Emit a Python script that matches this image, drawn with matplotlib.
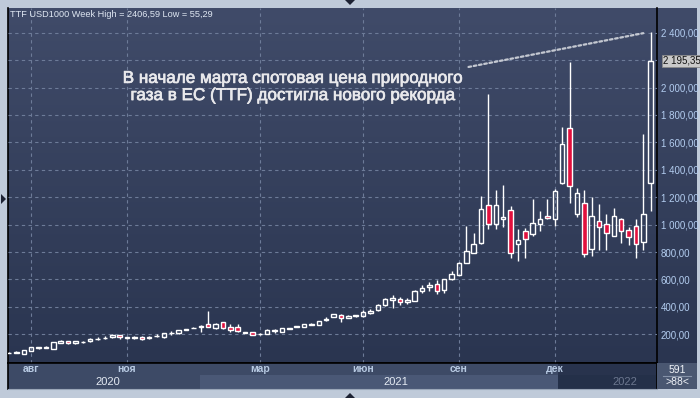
import numpy as np
import matplotlib
matplotlib.use('Agg')
import matplotlib.pyplot as plt
from matplotlib.colors import LinearSegmentedColormap
from matplotlib.patches import Rectangle, Polygon
from matplotlib.lines import Line2D
import matplotlib.transforms as mtransforms
import matplotlib.patheffects as pe

plt.rcParams['font.family'] = ['Liberation Sans', 'DejaVu Sans']

# ---------------- data (weekly candles, USD per 1000 m3) ----------------
opens = [64, 66, 60, 78, 101, 100, 92, 140, 148, 134,
         143, 148, 164, 170, 177, 194, 173, 175, 177, 170,
         186, 177, 207, 206, 234, 244, 257, 272, 247, 289,
         252, 252, 210, 214, 200, 204, 222, 218, 240, 255,
         255, 268, 269, 303, 327, 340, 321, 335, 335, 357,
         376, 415, 452, 461, 437, 444, 514, 545, 565, 524,
         606, 635, 722, 795, 863, 1144, 1006, 1043, 1108, 861,
         955, 933, 1006, 1066, 1040, 1304, 1704, 1079, 1159, 824,
         1028, 1006, 919, 1042, 958, 992, 873, 1302]
highs = [69, 76, 84, 106, 105, 114, 143, 156, 150, 150,
         148, 171, 178, 188, 201, 196, 184, 186, 185, 186,
         202, 211, 224, 235, 241, 250, 266, 368, 286, 291,
         272, 277, 217, 216, 207, 240, 238, 248, 248, 260,
         274, 282, 298, 325, 349, 347, 344, 342, 376, 388,
         419, 468, 485, 470, 463, 526, 558, 582, 594, 603,
         660, 727, 989, 936, 1212, 1953, 1256, 1292, 1139, 965,
         977, 1190, 1103, 1190, 1260, 1709, 2186, 1270, 1256, 1205,
         1147, 1074, 1118, 1045, 984, 1038, 1663, 2406.59]
lows = [62, 64, 55.29, 76, 90, 99, 90, 138, 132, 132,
        134, 147, 157, 169, 172, 165, 167, 168, 156, 168,
        178, 175, 194, 204, 228, 243, 218, 254, 237, 240,
        218, 214, 208, 195, 198, 202, 211, 216, 238, 254,
        253, 266, 267, 298, 325, 291, 319, 325, 323, 351,
        369, 407, 390, 417, 424, 442, 504, 519, 495, 499,
        597, 632, 718, 790, 856, 965, 965, 982, 754, 735,
        754, 916, 953, 1038, 989, 1300, 1159, 1057, 764, 771,
        815, 815, 915, 863, 849, 757, 815, 1098]
closes = [67, 69, 82, 104, 104, 106, 141, 148, 134, 148,
          147, 163, 169, 174, 194, 177, 177, 179, 163, 184,
          191, 209, 211, 230, 239, 248, 262, 257, 276, 247,
          230, 226, 215, 197, 205, 233, 229, 245, 246, 258,
          272, 274, 296, 313, 347, 320, 330, 340, 364, 367,
          412, 456, 465, 437, 451, 514, 536, 557, 516, 601,
          642, 722, 810, 861, 1115, 1006, 1144, 1055, 795, 890,
          897, 1013, 1042, 1049, 1246, 1588, 1280, 1231, 788, 1064,
          984, 941, 1064, 953, 909, 861, 1079, 2195.35]

month_labels = ['авг', 'ноя', 'мар', 'июн', 'сен', 'дек']
year_labels = ['2020', '2021', '2022']
price_ticks = [200, 400, 600, 800, 1000, 1200, 1400, 1600, 1800, 2000, 2200, 2400]
title = 'TTF USD1000 Week High = 2406,59 Low = 55,29'
note = 'В начале марта спотовая цена природного\nгаза в ЕС (TTF) достигла нового рекорда'
last_label = '2 195,35'
bar_count = '591'
visible_count = '>88<'

# ---------------- layout (positions / styles) ----------------
month_pos = [3, 16, 34, 48, 61, 74]
year_pos = [13.4, 52.5, 83.5]
W, H = 700, 398
XLIM = (-0.1, 87.9)
YLIM = (-7, 2578)
RED = '#e2103d'
GRID = '#6d7b98'

def rect(x0, y0, x1, y1):
    return [x0 / W, (H - y1) / H, (x1 - x0) / W, (y1 - y0) / H]

def fmt(v):
    return f'{v:,.2f}'.replace(',', ' ').replace('.', ',')

fig = plt.figure(figsize=(W / 100, H / 100), dpi=100, facecolor='#bfcad9')

grad = LinearSegmentedColormap.from_list('bg', ['#2a3550', '#404b69'])
gimg = np.linspace(0, 1, 256).reshape(-1, 1)

# right price panel (behind main axes)
rax = fig.add_axes(rect(657.3, 8.3, 697, 362.7))
rax.set_zorder(-1)
rax.imshow(gimg, cmap=grad, aspect='auto', extent=[0, 1, 0, 1], origin='lower')
rax.set_xlim(0, 1); rax.set_ylim(0, 1)
rax.axis('off')

# main chart
ax = fig.add_axes(rect(8.3, 8.3, 657.3, 362.7))
ax.imshow(gimg, cmap=grad, aspect='auto',
          extent=[XLIM[0], XLIM[1], YLIM[0], YLIM[1]], origin='lower', zorder=0)
ax.set_xlim(*XLIM)
ax.set_ylim(*YLIM)

o = np.array(opens, float); c = np.array(closes, float)
h = np.array(highs, float); l = np.array(lows, float)
x = np.arange(len(o))
up = c >= o
body_top = np.maximum(o, c); body_bot = np.minimum(o, c)

ax.set_yticks(price_ticks)
ax.set_xticks(month_pos)
ax.grid(True, color=GRID, linestyle=(0, (3, 3)), linewidth=0.8, zorder=1)
ax.set_axisbelow(False)
for gl in ax.get_xgridlines() + ax.get_ygridlines():
    gl.set_zorder(1)

ax.vlines(x, body_top, h, colors='white', linewidth=1, zorder=3)
ax.vlines(x, l, body_bot, colors='white', linewidth=1, zorder=3)
face = [('none' if u else RED) for u in up]
ax.bar(x, c - o, bottom=o, width=0.62, color=face, edgecolor='white',
       linewidth=1, zorder=4)

# tick labels on the right; the one hidden behind the last-price tag is left blank
ax.yaxis.tick_right()
ax.set_yticklabels([('' if abs(v - closes[-1]) < 60 else fmt(v)) for v in price_ticks])
ax.tick_params(axis='y', length=0, pad=2.5, labelsize=7, labelcolor='#b3cdf0')
ax.tick_params(axis='x', length=0, labelbottom=False)
for s in ['left', 'right', 'bottom']:
    ax.spines[s].set_color('black'); ax.spines[s].set_linewidth(1.2)
ax.spines['top'].set_visible(False)

# last price tag
tr = mtransforms.blended_transform_factory(ax.transAxes, ax.transData)
ax.text(1.009, closes[-1], last_label, transform=tr, ha='left', va='center',
        fontsize=7, color='#111111', zorder=6, clip_on=False,
        bbox=dict(boxstyle='square,pad=0.12', fc='#c9c9c9', ec='#8a8a8a', lw=0.6))

# title & annotation
fig.text(10 / W, 1 - 14.5 / H, title, ha='left', va='center', fontsize=6.6, color='#dfe7f2')
ax.text(0.4387, 0.778, note, transform=ax.transAxes, ha='center', va='center',
        fontsize=12.3, color='#e9e9ec', linespacing=1.18, zorder=6,
        path_effects=[pe.withStroke(linewidth=0.5, foreground='#e9e9ec')])
ax.annotate('', xy=(x[-1] - 1.0, h[-1] - 10), xytext=(62.3, 2150),
            arrowprops=dict(arrowstyle='-', color='#c5c9d2', linestyle=(0, (1.2, 1.2)),
                            lw=1.6, shrinkA=0, shrinkB=0), zorder=5)

# bottom date panel
bax = fig.add_axes(rect(8.3, 362.7, 657.3, 389))
bax.set_facecolor('#3d4a66')
bax.set_xlim(*XLIM); bax.set_ylim(0, 1)
bax.add_patch(Rectangle((25.9, 0), 74.4 - 25.9, 0.52, color='#4a5876', lw=0))
bax.add_patch(Rectangle((74.4, 0), XLIM[1] - 74.4, 1, color='#28334d', lw=0))
bax.add_patch(Rectangle((74.4, 0), XLIM[1] - 74.4, 0.52, color='#243049', lw=0))
for p, lab in zip(month_pos, month_labels):
    bax.text(p, 0.75, lab, ha='center', va='center', fontsize=7.5,
             color='#b8cae3', fontweight='bold')
for p, lab, col in zip(year_pos, year_labels, ['#e4eaf3', '#e4eaf3', '#6c778f']):
    bax.text(p, 0.27, lab, ha='center', va='center', fontsize=8, color=col)
bax.set_xticks([]); bax.set_yticks([])
for s in ['left', 'right', 'top']:
    bax.spines[s].set_color('black'); bax.spines[s].set_linewidth(1.2)
bax.spines['bottom'].set_color('#9aa6b8')

# bottom-right counter box
cax = fig.add_axes(rect(657.3, 362.7, 697, 389))
cax.set_facecolor('#4a5771')
cax.set_xlim(0, 1); cax.set_ylim(0, 1)
cax.text(0.5, 0.73, bar_count, ha='center', va='center', fontsize=7.5, color='#f0f3f8')
cax.text(0.5, 0.25, visible_count, ha='center', va='center', fontsize=7.5, color='#f0f3f8')
cax.add_line(Line2D([0.15, 0.85], [0.49, 0.49], color='#8592a8', lw=0.8))
cax.set_xticks([]); cax.set_yticks([])
for s in cax.spines.values():
    s.set_visible(False)

# small frame arrows
tri = '#1d2233'
for pts in ([(345, 0), (355, 0), (350, 5)],
            [(345, 398), (355, 398), (350, 393)],
            [(1, 194), (1, 204), (6, 199)]):
    fig.add_artist(Polygon([(px / W, 1 - py / H) for px, py in pts], closed=True,
                           transform=fig.transFigure, color=tri, lw=0))

fig.savefig('out.png', dpi=100, facecolor=fig.get_facecolor())
